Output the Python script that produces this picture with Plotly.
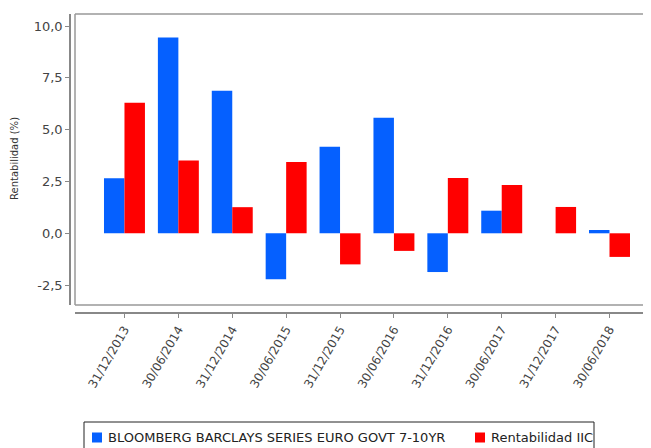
import plotly.graph_objects as go

categories = ["31/12/2013", "30/06/2014", "31/12/2014", "30/06/2015", "31/12/2015",
              "30/06/2016", "31/12/2016", "30/06/2017", "31/12/2017", "30/06/2018"]
benchmark = [2.65, 9.45, 6.88, -2.22, 4.18, 5.58, -1.87, 1.09, 0.0, 0.16]
fund = [6.3, 3.51, 1.26, 3.44, -1.5, -0.85, 2.67, 2.33, 1.27, -1.14]
series_names = ["BLOOMBERG BARCLAYS SERIES EURO GOVT 7-10YR", "Rentabilidad IIC"]
series_colors = ["#0560FF", "#FF0000"]
y_ticks = [-2.5, 0, 2.5, 5, 7.5, 10]
y_ticktext = ["-2,5", "0,0", "2,5", "5,0", "7,5", "10,0"]

# the page body adds an 8px offset, so the figure is 8px smaller than the window
OFF = 8
W, H = 651 - OFF, 448 - OFF
ml, mt, mb = 70 - OFF, 14 - OFF, 135
plot_w = W - ml
plot_h = H - mt - mb


def px_x(p):  # page pixel -> paper coordinate
    return (p - OFF - ml) / plot_w


def px_y(p):
    return (H - mb - (p - OFF)) / plot_h


fig = go.Figure()
for vals, name, col in zip([benchmark, fund], series_names, series_colors):
    fig.add_trace(go.Bar(x=categories, y=vals, name=name,
                         marker=dict(color=col, line=dict(width=0))))

# plot frame (open on the right, as in the reference)
frame_line = dict(color="#999999", width=1.5)
frame_shapes = [
    dict(type="line", xref="x domain", yref="y domain", x0=0, x1=1.05, y0=1, y1=1, line=frame_line),
    dict(type="line", xref="x domain", yref="y domain", x0=0, x1=1.05, y0=0, y1=0, line=frame_line),
    dict(type="line", xref="x domain", yref="y domain", x0=0, x1=0, y0=0, y1=1, line=frame_line),
]

# legend drawn as a box with swatches and text
legend_shapes = [dict(type="rect", xref="paper", yref="paper",
                      x0=px_x(84), x1=px_x(594), y0=px_y(452), y1=px_y(422),
                      line=dict(color="#222222", width=1), fillcolor="white")]
legend_annotations = []
swatch_x = [92, 475]
text_x = [106, 489]
for sx, tx, name, col in zip(swatch_x, text_x, series_names, series_colors):
    legend_shapes.append(dict(type="rect", xref="paper", yref="paper",
                              x0=px_x(sx), x1=px_x(sx + 10), y0=px_y(442.5), y1=px_y(432.5),
                              line=dict(width=0), fillcolor=col))
    legend_annotations.append(dict(text=name, xref="paper", yref="paper",
                                   x=px_x(tx), xanchor="left", y=px_y(437.5), yanchor="middle",
                                   showarrow=False,
                                   font=dict(family="DejaVu Sans", size=13, color="#222222")))

fig.update_layout(
    width=W, height=H,
    margin=dict(l=ml, r=0, t=mt, b=mb, pad=0, autoexpand=False),
    paper_bgcolor="white", plot_bgcolor="white",
    barmode="group", bargap=0.24, bargroupgap=0,
    font=dict(family="DejaVu Sans", size=12, color="#444444"),
    showlegend=False,
    xaxis=dict(domain=[5 / plot_w, 1], range=[-0.918, 9.77], type="category",
               anchor="free", position=0, automargin=False,
               showline=True, linecolor="#888888", linewidth=1.5,
               ticks="outside", ticklen=4, tickcolor="#888888",
               tickangle=-60, showgrid=False, zeroline=False,
               tickfont=dict(size=12, color="#444444")),
    yaxis=dict(domain=[8 / plot_h, 1], range=[-3.46, 10.58],
               anchor="free", position=0, automargin=False,
               tickvals=y_ticks, ticktext=y_ticktext,
               showline=True, linecolor="#888888", linewidth=1.5,
               ticks="outside", ticklen=4, tickcolor="#888888",
               showgrid=False, zeroline=False,
               tickfont=dict(size=13, color="#444444")),
    shapes=frame_shapes + legend_shapes,
    annotations=[dict(text="Rentabilidad (%)", textangle=-90, xref="paper", yref="paper",
                      x=px_x(14), xanchor="center",
                      y=px_y(159), yanchor="middle", showarrow=False,
                      font=dict(family="DejaVu Sans", size=10, color="#333333"))]
                + legend_annotations,
)

fig.write_html("out.html")
